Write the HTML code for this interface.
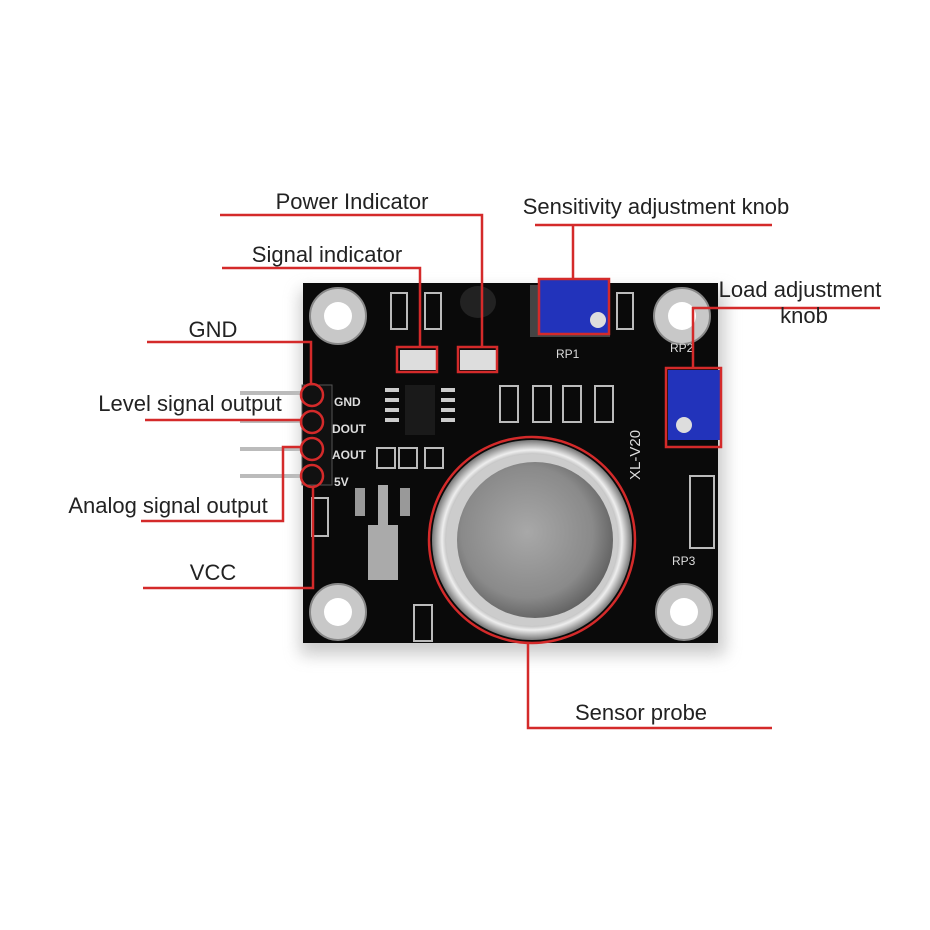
<!DOCTYPE html>
<html><head><style>
html,body{margin:0;padding:0;background:#fff;}
svg{display:block;}
text{font-family:"Liberation Sans",sans-serif;}
</style></head><body>
<svg width="930" height="930" viewBox="0 0 930 930" xmlns="http://www.w3.org/2000/svg">
<defs>
<radialGradient id="mesh" cx="0.45" cy="0.45" r="0.6">
<stop offset="0" stop-color="#a8a8a8"/><stop offset="0.7" stop-color="#8a8a8a"/><stop offset="1" stop-color="#5a5a5a"/>
</radialGradient>
<radialGradient id="ring" cx="0.5" cy="0.5" r="0.5">
<stop offset="0.8" stop-color="#888"/><stop offset="0.9" stop-color="#eee"/><stop offset="1" stop-color="#777"/>
</radialGradient>
<filter id="sh" x="-20%" y="-20%" width="140%" height="140%"><feGaussianBlur stdDeviation="8"/></filter>
</defs>
<rect x="300" y="290" width="425" height="365" fill="#999" opacity="0.5" filter="url(#sh)"/>
<rect x="303" y="283" width="415" height="360" fill="#0a0a0a"/>
<g fill="#c8c8c8" stroke="#888" stroke-width="2">
<circle cx="338" cy="316" r="28"/><circle cx="682" cy="316" r="28"/>
<circle cx="338" cy="612" r="28"/><circle cx="684" cy="612" r="28"/>
</g>
<g fill="#fff"><circle cx="338" cy="316" r="14"/><circle cx="682" cy="316" r="14"/><circle cx="338" cy="612" r="14"/><circle cx="684" cy="612" r="14"/></g>
<g stroke="#bbb" stroke-width="4">
<line x1="240" y1="393" x2="312" y2="393"/><line x1="240" y1="421" x2="312" y2="421"/>
<line x1="240" y1="449" x2="312" y2="449"/><line x1="240" y1="476" x2="312" y2="476"/>
</g>
<rect x="302" y="385" width="30" height="100" fill="#111" stroke="#555"/>
<g fill="#ddd" font-family="Liberation Serif" font-size="12" font-weight="bold">
<text x="334" y="406">GND</text><text x="332" y="433">DOUT</text><text x="332" y="459">AOUT</text><text x="334" y="486">5V</text>
</g>
<g fill="none" stroke="#bbb" stroke-width="2">
<rect x="391" y="293" width="16" height="36"/><rect x="425" y="293" width="16" height="36"/>
<rect x="617" y="293" width="16" height="36"/>
<rect x="500" y="386" width="18" height="36"/><rect x="533" y="386" width="18" height="36"/><rect x="563" y="386" width="18" height="36"/><rect x="595" y="386" width="18" height="36"/>
<rect x="377" y="448" width="18" height="20"/><rect x="399" y="448" width="18" height="20"/><rect x="425" y="448" width="18" height="20"/>
<rect x="312" y="498" width="16" height="38"/><rect x="414" y="605" width="18" height="36"/>
<rect x="690" y="476" width="24" height="72"/>
</g>
<rect x="405" y="385" width="30" height="50" fill="#1a1a1a"/>
<g fill="#ccc"><rect x="385" y="388" width="14" height="4"/><rect x="385" y="398" width="14" height="4"/><rect x="385" y="408" width="14" height="4"/><rect x="385" y="418" width="14" height="4"/>
<rect x="441" y="388" width="14" height="4"/><rect x="441" y="398" width="14" height="4"/><rect x="441" y="408" width="14" height="4"/><rect x="441" y="418" width="14" height="4"/></g>
<rect x="368" y="525" width="30" height="55" fill="#aaa"/><rect x="378" y="485" width="10" height="40" fill="#aaa"/>
<rect x="355" y="488" width="10" height="28" fill="#999"/><rect x="400" y="488" width="10" height="28" fill="#999"/>
<ellipse cx="478" cy="302" rx="18" ry="16" fill="#222"/>
<rect x="400" y="350" width="36" height="20" fill="#ddd"/><rect x="460" y="350" width="36" height="20" fill="#ddd"/>
<rect x="530" y="285" width="80" height="52" fill="#ccc" opacity="0.3"/>
<rect x="540" y="279" width="68" height="55" fill="#2233bb"/>
<circle cx="598" cy="320" r="8" fill="#ddd"/>
<text x="556" y="358" fill="#ddd" font-family="Liberation Serif" font-size="12">RP1</text>
<rect x="668" y="370" width="52" height="70" fill="#2233bb"/>
<circle cx="684" cy="425" r="8" fill="#ddd"/>
<text x="670" y="352" fill="#ddd" font-family="Liberation Serif" font-size="12">RP2</text>
<text x="672" y="565" fill="#ddd" font-family="Liberation Serif" font-size="12">RP3</text>
<text transform="translate(640,480) rotate(-90)" fill="#ddd" font-family="Liberation Serif" font-size="15">XL-V20</text>
<circle cx="532" cy="540" r="100" fill="url(#ring)"/>
<circle cx="532" cy="540" r="86" fill="#ccc"/>
<circle cx="535" cy="540" r="78" fill="url(#mesh)"/>
<g fill="none" stroke="#d42a2a" stroke-width="2.5">
<polyline points="220,215 482,215 482,347"/>
<rect x="458" y="347" width="39" height="25"/>
<polyline points="222,268 420,268 420,347"/>
<rect x="397" y="347" width="40" height="25"/>
<polyline points="535,225 772,225"/><line x1="573" y1="225" x2="573" y2="279"/>
<rect x="539" y="279" width="70" height="55"/>
<polyline points="880,308 693,308 693,368"/>
<rect x="666" y="368" width="55" height="79"/>
<polyline points="147,342 311,342 311,384"/>
<circle cx="312" cy="395" r="11"/><circle cx="312" cy="422" r="11"/><circle cx="312" cy="449" r="11"/><circle cx="312" cy="476" r="11"/>
<line x1="145" y1="420" x2="301" y2="420"/>
<polyline points="141,521 283,521 283,447 301,447"/>
<polyline points="143,588 313,588 313,487"/>
<circle cx="532" cy="540" r="103"/>
<polyline points="528,643 528,728 772,728"/>
</g>
<g fill="#222" font-size="22" text-anchor="middle">
<text x="352" y="209">Power Indicator</text>
<text x="327" y="262">Signal indicator</text>
<text x="656" y="214">Sensitivity adjustment knob</text>
<text x="800" y="297">Load adjustment</text>
<text x="804" y="323">knob</text>
<text x="213" y="337">GND</text>
<text x="190" y="411">Level signal output</text>
<text x="168" y="513">Analog signal output</text>
<text x="213" y="580">VCC</text>
<text x="641" y="720">Sensor probe</text>
</g>
</svg>
</body></html>
